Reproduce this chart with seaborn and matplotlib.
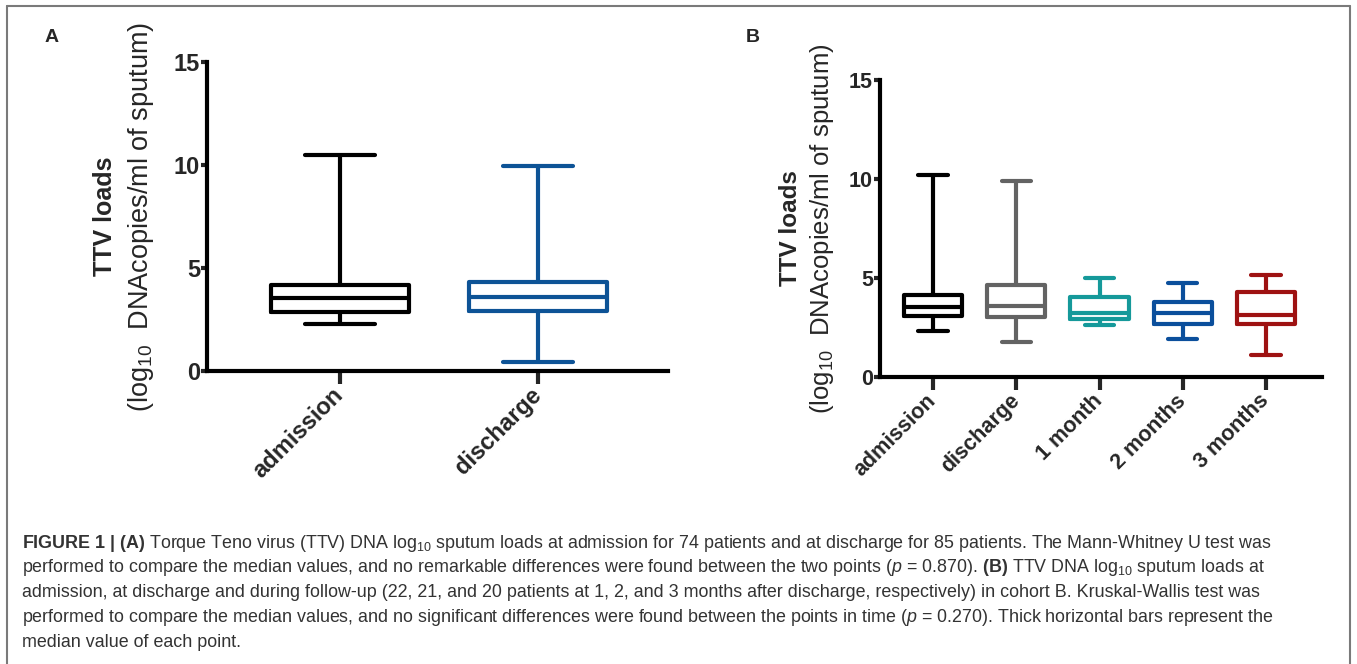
import numpy as np
import pandas as pd
import matplotlib
matplotlib.use("Agg")
import matplotlib.pyplot as plt
from matplotlib.lines import Line2D
import seaborn as sns

# five-number summaries (min, Q1, median, Q3, max)
times_a = ["admission", "discharge"]
a_admission = [2.26, 2.88, 3.55, 4.18, 10.46]
a_discharge = [0.44, 2.89, 3.58, 4.33, 9.95]
colors_a = ["#000000", "#0d5396"]

times_b = ["admission", "discharge", "1 month", "2 months", "3 months"]
b_admission = [2.33, 3.07, 3.55, 4.14, 10.22]
b_discharge = [1.77, 3.04, 3.58, 4.63, 9.88]
b_1month = [2.62, 2.91, 3.24, 4.02, 5.02]
b_2months = [1.94, 2.70, 3.21, 3.80, 4.73]
b_3months = [1.10, 2.70, 3.11, 4.31, 5.17]
colors_b = ["#000000", "#636363", "#15999a", "#0b4f9c", "#9e1212"]

yticks = [0, 5, 10, 15]

caption_lines = [
    r"$\mathbf{FIGURE\ 1\ |\ (A)}$ Torque Teno virus (TTV) DNA log$_{10}$ sputum loads at admission for 74 patients and at discharge for 85 patients. The Mann-Whitney U test was",
    r"performed to compare the median values, and no remarkable differences were found between the two points ($p$ = 0.870). $\mathbf{(B)}$ TTV DNA log$_{10}$ sputum loads at",
    r"admission, at discharge and during follow-up (22, 21, and 20 patients at 1, 2, and 3 months after discharge, respectively) in cohort B. Kruskal-Wallis test was",
    r"performed to compare the median values, and no significant differences were found between the points in time ($p$ = 0.270). Thick horizontal bars represent the",
    r"median value of each point.",
]


def long_df(names, series):
    rows = []
    for n, vals in zip(names, series):
        for v in vals:
            rows.append({"time": n, "load": v})
    return pd.DataFrame(rows)


df_a = long_df(times_a, [a_admission, a_discharge])
df_b = long_df(times_b, [b_admission, b_discharge, b_1month, b_2months, b_3months])

sns.set_style("ticks")
plt.rcParams["font.family"] = ["Liberation Sans", "DejaVu Sans"]
plt.rcParams["mathtext.fontset"] = "custom"
plt.rcParams["mathtext.rm"] = "Liberation Sans"
plt.rcParams["mathtext.it"] = "Liberation Sans:italic"
plt.rcParams["mathtext.bf"] = "Liberation Sans:bold"

fig = plt.figure(figsize=(13.57, 6.64), dpi=100)
ax_a = fig.add_axes([0.1525, 0.4413, 0.3398, 0.4654])
ax_b = fig.add_axes([0.6485, 0.4322, 0.3257, 0.4473])


def style_panel(ax, df, names, colors, xlim, fs_tick, fs_lab, lab_x):
    sns.boxplot(data=df, x="time", y="load", hue="time", order=names,
                hue_order=names, palette=colors, fill=False, whis=(0, 100),
                width=0.7, linewidth=3, legend=False, ax=ax)
    for ln in ax.lines:
        ln.set_solid_capstyle("round")
        ln.set_clip_on(False)
    for p in ax.patches:
        p.set_clip_on(False)
    ax.set_xlim(*xlim)
    ax.set_ylim(0, 15)
    ax.set_yticks(yticks)
    ax.set_xlabel("")
    ax.set_ylabel("")
    sns.despine(ax=ax)
    for s in ["left", "bottom"]:
        ax.spines[s].set_linewidth(3)
        ax.spines[s].set_color("black")
    ax.tick_params(axis="y", length=4, width=3, pad=1, labelsize=fs_tick)
    ax.tick_params(axis="x", length=9, width=3, pad=6, labelsize=fs_tick)
    plt.setp(ax.get_yticklabels(), fontweight="bold")
    plt.setp(ax.get_xticklabels(), rotation=45, ha="right", va="center",
             rotation_mode="anchor", fontweight="bold")
    ax.text(lab_x[0], 0.5, "TTV loads", rotation=90, ha="center", va="center",
            fontsize=fs_lab[0], fontweight="bold", transform=ax.transAxes)
    ax.text(lab_x[1], 0.5, r"(log$_{10}$$\ $ DNAcopies/ml of sputum)", rotation=90,
            ha="center", va="center", fontsize=fs_lab[1], transform=ax.transAxes)


style_panel(ax_a, df_a, times_a, colors_a, (-0.672, 1.657), 17, (18, 19.5), (-0.222, -0.143))
style_panel(ax_b, df_b, times_b, colors_b, (-0.637, 4.672), 15.5, (17.5, 18.5), (-0.203, -0.131))

fig.text(52 / 1357, 1 - 38 / 664, "A", fontsize=14, fontweight="bold", ha="center", va="center")
fig.text(753 / 1357, 1 - 38 / 664, "B", fontsize=14, fontweight="bold", ha="center", va="center")

# caption
for i, line in enumerate(caption_lines):
    fig.text(22 / 1357, 1 - (543 + i * 24.8) / 664, line, fontsize=12.9,
             color="#333333", ha="left", va="center")

# frame around the figure (top, left, right)
W, H = 1357, 664
frame = dict(color="#7a7a7a", linewidth=1.5, transform=fig.transFigure)
fig.add_artist(Line2D([7 / W, 1350 / W], [1 - 6 / H, 1 - 6 / H], **frame))
fig.add_artist(Line2D([7 / W, 7 / W], [0, 1 - 6 / H], **frame))
fig.add_artist(Line2D([1350 / W, 1350 / W], [0, 1 - 6 / H], **frame))

fig.savefig("out.png", dpi=100)
